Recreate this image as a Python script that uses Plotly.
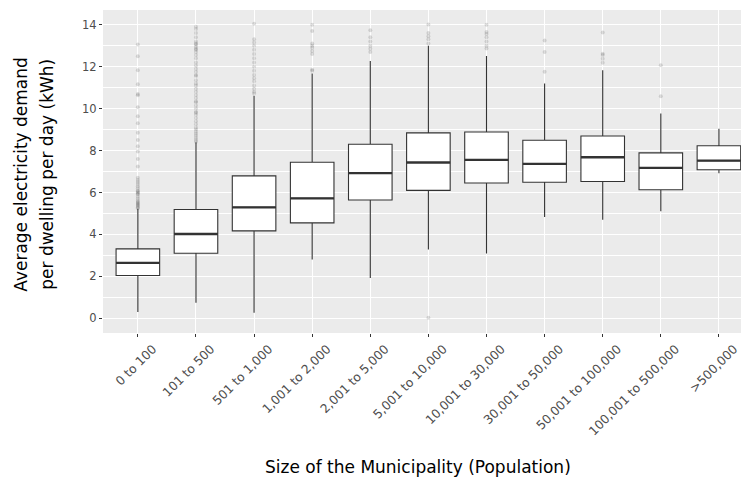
import plotly.graph_objects as go

# Municipality size classes (population)
categories = ["0 to 100", "101 to 500", "501 to 1,000", "1,001 to 2,000",
              "2,001 to 5,000", "5,001 to 10,000", "10,001 to 30,000",
              "30,001 to 50,000", "50,001 to 100,000", "100,001 to 500,000",
              ">500,000"]

# Box statistics: average electricity demand per dwelling per day (kWh)
q1 = [2.04, 3.10, 4.17, 4.55, 5.64, 6.10, 6.45, 6.49, 6.52, 6.13, 7.08]
median = [2.64, 4.02, 5.29, 5.72, 6.92, 7.43, 7.55, 7.36, 7.68, 7.17, 7.52]
q3 = [3.31, 5.19, 6.79, 7.44, 8.30, 8.84, 8.88, 8.49, 8.69, 7.89, 8.23]
lower_whisker = [0.30, 0.74, 0.27, 2.80, 1.92, 3.28, 3.09, 4.83, 4.70, 5.10, 6.92]
upper_whisker = [5.22, 8.40, 10.61, 11.67, 12.27, 12.99, 12.51, 11.20, 11.83, 9.77, 9.04]

# Outlying municipalities per class
outliers = [
    [5.25, 5.3, 5.35, 5.4, 5.45, 5.5, 5.55, 5.6, 5.7, 5.8, 5.9, 5.95, 6.0,
     6.05, 6.1, 6.2, 6.3, 6.4, 6.5, 6.6, 6.7, 7.24, 7.6, 7.95, 8.2, 8.5,
     8.85, 9.3, 9.64, 10.06, 10.64, 10.7, 11.16, 11.83, 12.49, 13.06],
    [8.42, 8.5, 8.6, 8.7, 8.8, 8.9, 9.0, 9.1, 9.25, 9.4, 9.55, 9.7, 9.8,
     9.85, 10.0, 10.15, 10.3, 10.35, 10.5, 10.65, 10.8, 10.95, 11.1, 11.2,
     11.35, 11.55, 11.6, 11.75, 11.9, 12.05, 12.2, 12.4, 12.55, 12.7, 12.8,
     12.85, 12.95, 13.05, 13.1, 13.2, 13.4, 13.6, 13.8, 13.9],
    [10.72, 10.8, 10.95, 11.1, 11.3, 11.45, 11.6, 11.8, 12.0, 12.2, 12.4,
     12.6, 12.8, 13.0, 13.15, 13.3, 14.05],
    [11.8, 11.85, 12.6, 12.75, 12.9, 13.0, 13.1, 13.7, 14.0],
    [12.7, 12.85, 13.0, 13.2, 13.4, 13.73],
    [0.03, 13.1, 13.3, 13.45, 13.6, 14.01],
    [12.86, 13.0, 13.2, 13.4, 13.55, 13.65, 14.0],
    [11.75, 12.70, 13.25],
    [12.19, 12.38, 12.55, 12.62, 13.63],
    [10.59, 12.07],
    [],
]

y_title_lines = ["Average electricity demand", "per dwelling per day (kWh)"]
x_title = "Size of the Municipality (Population)"

box_width = 0.75
line_col = "#333333"

fig = go.Figure()

for i, cat in enumerate(categories):
    pts = outliers[i]
    if pts:
        fig.add_trace(go.Scatter(
            x=[i] * len(pts), y=pts, mode="markers",
            marker=dict(size=4, color="rgba(0,0,0,0.13)", line=dict(width=0)),
            showlegend=False, hoverinfo="y"))

fig.add_trace(go.Box(
    x=list(range(len(categories))), q1=q1, median=median, q3=q3,
    lowerfence=lower_whisker, upperfence=upper_whisker,
    boxpoints=False, width=box_width, fillcolor="white",
    line=dict(color=line_col, width=1.1), whiskerwidth=0,
    showlegend=False))

# Thicker median bars, as in ggplot boxplots
for i, m in enumerate(median):
    fig.add_trace(go.Scatter(
        x=[i - box_width / 2, i + box_width / 2], y=[m, m], mode="lines",
        line=dict(color=line_col, width=2.3), showlegend=False,
        hoverinfo="skip"))

fig.update_layout(
    width=741, height=477,
    margin=dict(l=103, r=0, t=10, b=144),
    paper_bgcolor="white", plot_bgcolor="#EBEBEB",
    font=dict(family="DejaVu Sans", color="#4d4d4d"),
    showlegend=False,
)

fig.update_xaxes(
    range=[-0.6, 10.38], tickmode="array",
    tickvals=list(range(len(categories))), ticktext=categories,
    tickangle=-45, tickfont=dict(size=12.3, color="#4d4d4d"),
    ticklabelshift=15, ticklabelstandoff=0,
    ticks="outside", ticklen=3, tickcolor=line_col, tickwidth=1,
    showgrid=True, gridcolor="white", gridwidth=1.1,
    zeroline=False, showline=False,
)
fig.update_yaxes(
    range=[-0.7, 14.7], tickmode="linear", tick0=0, dtick=2,
    tickfont=dict(size=11.5, color="#4d4d4d"),
    ticks="outside", ticklen=3, tickcolor=line_col, tickwidth=1,
    showgrid=True, gridcolor="white", gridwidth=1.1,
    minor=dict(dtick=1, tick0=0, showgrid=True, gridcolor="white",
               gridwidth=0.5, ticks=""),
    zeroline=False, showline=False,
)

# Two-line y-axis title, one annotation per line
for px, line in zip([21, 47], y_title_lines):
    fig.add_annotation(
        text=line, xref="paper", yref="paper", x=(px - 103) / 638, y=0.49,
        xanchor="center", yanchor="middle", textangle=-90, showarrow=False,
        font=dict(size=17, color="black", family="DejaVu Sans"))
fig.add_annotation(
    text=x_title,
    xref="paper", yref="paper", x=(418 - 103) / 638, y=-(467 - 333) / 323,
    xanchor="center", yanchor="middle", showarrow=False,
    font=dict(size=17, color="black", family="DejaVu Sans"))

fig.write_html("out.html")
